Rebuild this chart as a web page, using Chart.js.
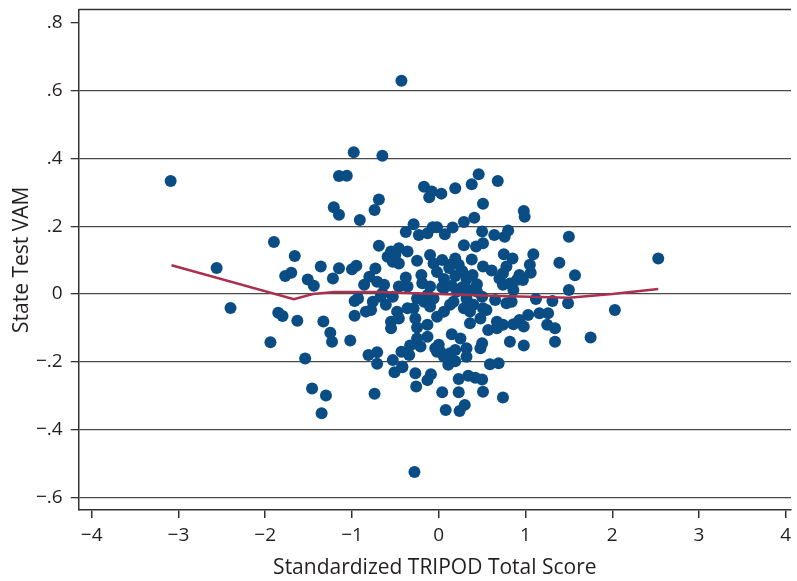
<!DOCTYPE html>
<html>
<head>
<meta charset="utf-8">
<script src="https://cdn.jsdelivr.net/npm/chart.js@4"></script>
<style>
  html, body { margin: 0; padding: 0; background: #fff; }
  #wrap { width: 797px; height: 581px; }
</style>
</head>
<body>
<div id="wrap"><canvas id="vam-chart" width="797" height="581"></canvas></div>
<script>
// standardized TRIPOD score (x) vs state test VAM (y), one pair per teacher
const scoreX = [
  -3.09, -2.56, -2.40, -1.90, -1.94, -1.85, -1.80, -1.66, -1.63, -1.77,
  -1.70, -1.51, -1.44, -1.36, -1.54, -1.46, -1.30, -1.35, -1.33, -1.25,
  -1.23, -1.02, -1.22, -1.15, -1.21, -1.15, -1.15, -1.06, -0.98, -0.65,
  -0.43, -0.91, -0.69, -0.74, -0.95, -1.00, -0.69, -0.73, -0.86, -0.17,
  -0.08, -0.11, -0.29, -0.38, -0.23, -0.13, -0.07, -0.55, -0.46, -0.36,
  -0.59, -0.50, -0.53, -0.46, -0.25, -0.10, -0.06, -0.80, -0.71, -0.63,
  -0.38, -0.46, -0.36, -0.20, -0.19, -0.10, 0.46, 0.38, 0.68, 0.03,
  0.19, 0.51, 0.41, 0.29, 0.98, 0.99, 0.16, 0.07, -0.02, 0.50,
  0.64, 0.76, 0.80, 1.50, 0.29, 0.43, 0.51, 0.75, 0.85, 1.09,
  1.39, 1.57, 1.50, 0.38, 0.19, 0.04, 0.23, 0.13, 0.51, 0.61,
  0.78, 0.74, 1.05, 1.06, 0.93, 0.97, -0.02, 0.06, 0.12, 0.19,
  0.27, 0.32, 0.39, 0.44, 0.15, 0.04, 0.27, 0.35, 0.70, 0.82,
  0.90, -0.74, -0.97, -0.93, -0.97, -0.84, -0.76, -0.67, -0.61, -0.53,
  -0.55, -0.46, -0.55, -0.48, -0.36, -0.27, -0.29, -0.17, -0.10, -0.25,
  -0.13, -0.06, -0.13, -0.25, -0.13, -0.25, -0.21, -0.33, -0.43, -0.34,
  -0.53, -0.42, -0.51, -0.81, -0.71, -0.71, -0.27, -0.26, -0.13, -0.09,
  -0.04, -0.28, 1.49, 1.75, 1.34, 1.34, 1.25, 1.26, 1.16, 1.31,
  1.12, 0.98, 0.82, 1.03, 0.93, 0.98, 0.86, 0.74, 0.67, 0.55,
  0.84, 0.78, 0.65, 0.50, 0.86, 0.74, 0.57, 0.67, 0.48, 0.36,
  0.15, 0.25, 0.32, 0.19, 0.13, 0.32, 0.48, 0.50, 0.02, 0.06,
  0.11, 0.19, 0.59, 0.69, 0.23, 0.34, 0.42, 0.50, 0.04, 0.23,
  0.51, 0.74, 0.08, 0.24, 0.30, -0.02, 0.06, 0.13, 0.00, -0.02,
  0.21, 0.32, 0.40, 0.29, 0.36, 0.17, 0.44, 0.06, 0.51, 2.03,
  2.53, -0.42, -0.78, -0.65
];
const vamY = [
  0.333, 0.077, -0.041, 0.153, -0.142, -0.055, -0.065, 0.112, -0.079, 0.053,
  0.063, 0.043, 0.024, 0.081, -0.190, -0.279, -0.299, -0.352, -0.081, -0.114,
  -0.141, -0.137, 0.046, 0.076, 0.256, 0.234, 0.348, 0.349, 0.418, 0.408,
  0.629, 0.218, 0.279, 0.248, 0.083, 0.073, 0.142, 0.075, 0.027, 0.316,
  0.302, 0.285, 0.206, 0.183, 0.174, 0.179, 0.197, 0.125, 0.135, 0.125,
  0.110, 0.115, 0.095, 0.090, 0.098, 0.115, 0.090, 0.051, 0.036, 0.027,
  0.049, 0.022, 0.022, 0.056, 0.032, 0.022, 0.353, 0.324, 0.333, 0.296,
  0.312, 0.266, 0.225, 0.212, 0.245, 0.228, 0.196, 0.176, 0.197, 0.184,
  0.174, 0.169, 0.187, 0.169, 0.144, 0.140, 0.150, 0.117, 0.105, 0.117,
  0.092, 0.055, 0.012, 0.102, 0.105, 0.100, 0.086, 0.086, 0.081, 0.069,
  0.081, 0.061, 0.086, 0.063, 0.056, 0.041, 0.065, 0.044, 0.077, 0.053,
  0.068, 0.044, 0.056, 0.029, 0.024, 0.020, 0.020, 0.012, 0.046, 0.031,
  0.041, -0.294, -0.021, -0.013, -0.064, -0.052, -0.023, -0.008, -0.032, -0.008,
  -0.082, -0.072, -0.101, -0.052, -0.042, -0.072, -0.042, -0.023, -0.037, -0.013,
  -0.003, -0.013, -0.091, -0.099, -0.126, -0.131, -0.155, -0.152, -0.170, -0.180,
  -0.195, -0.214, -0.231, -0.180, -0.172, -0.206, -0.234, -0.273, -0.254, -0.237,
  -0.160, -0.525, -0.027, -0.128, -0.141, -0.101, -0.091, -0.057, -0.057, -0.021,
  -0.015, -0.152, -0.141, -0.062, -0.077, -0.096, -0.089, -0.091, -0.082, -0.047,
  -0.023, -0.027, -0.018, -0.008, 0.012, 0.027, -0.106, -0.101, -0.072, -0.086,
  -0.119, -0.131, -0.160, -0.165, -0.175, -0.185, -0.160, -0.145, -0.170, -0.185,
  -0.209, -0.198, -0.207, -0.204, -0.251, -0.241, -0.247, -0.252, -0.290, -0.290,
  -0.288, -0.305, -0.342, -0.345, -0.327, -0.067, -0.052, -0.032, -0.150, -0.170,
  0.007, -0.013, -0.032, -0.042, -0.052, -0.023, 0.007, 0.017, -0.042, -0.047,
  0.105, -0.216, -0.047, 0.002
];

// smoothed fit line
const fitX = [-3.08, -1.67, -1.45, -1.20, -0.70, 0.00, 0.70, 1.50, 2.00, 2.53];
const fitY = [0.085, -0.015, 0.000, 0.006, 0.006, 0.000, -0.006, -0.011, 0.000, 0.015];

const xTicks = [-4, -3, -2, -1, 0, 1, 2, 3, 4];
const xTickLabels = ['\u22124', '\u22123', '\u22122', '\u22121', '0', '1', '2', '3', '4'];
const yTicks = [-0.6, -0.4, -0.2, 0, 0.2, 0.4, 0.6, 0.8];
const yTickLabels = ['\u2212.6', '\u2212.4', '\u2212.2', '0', '.2', '.4', '.6', '.8'];

const ink = '#231f20';
const font = 'Open Sans';

function labelFor(ticks, labels, v) {
  const i = ticks.findIndex(t => Math.abs(t - v) < 1e-6);
  return i < 0 ? '' : labels[i];
}

const topFrame = {
  id: 'top_frame',
  afterDraw: (chart) => {
    const ctx = chart.ctx;
    const a = chart.chartArea;
    ctx.save();
    ctx.strokeStyle = '#333';
    ctx.lineWidth = 1.5;
    ctx.beginPath();
    ctx.moveTo(a.left, a.top);
    ctx.lineTo(a.right, a.top);
    ctx.stroke();
    ctx.restore();
  }
};

const data = {
  datasets: [
    {
      type: 'line',
      data: fitX.map((x, i) => ({x: x, y: fitY[i]})),
      borderColor: '#ad2f4f',
      borderWidth: 2.5,
      pointRadius: 0,
      fill: false,
      order: 0
    },
    {
      type: 'scatter',
      data: scoreX.map((x, i) => ({x: x, y: vamY[i]})),
      backgroundColor: '#0a4d85',
      borderWidth: 0,
      pointRadius: 6,
      order: 1
    }
  ]
};

const config = {
  type: 'scatter',
  data,
  plugins: [topFrame],
  options: {
    responsive: false,
    animation: false,
    layout: { padding: { top: 9.5, right: 0, left: 0, bottom: 0 } },
    plugins: {
      legend: { display: false },
      tooltip: { enabled: false }
    },
    scales: {
      x: {
        type: 'linear',
        min: -4.15,
        max: 4.06,
        afterFit: (s) => { s.height = 71; s.paddingLeft = 0; s.paddingRight = 0; },
        border: { color: '#333', width: 1.5 },
        grid: {
          drawOnChartArea: false,
          tickLength: 8,
          tickColor: '#333',
          lineWidth: 1.5
        },
        ticks: {
          stepSize: 1,
          includeBounds: false,
          autoSkip: false,
          maxRotation: 0,
          padding: 6,
          color: ink,
          font: { family: font, size: 19 },
          callback: (v) => labelFor(xTicks, xTickLabels, v)
        },
        title: {
          display: true,
          text: 'Standardized TRIPOD Total Score',
          color: ink,
          font: { family: font, size: 21 },
          padding: { top: 2, bottom: 0 }
        }
      },
      y: {
        type: 'linear',
        min: -0.637,
        max: 0.839,
        afterFit: (s) => { s.width = 78.7; s.paddingTop = 0; s.paddingBottom = 0; },
        border: { color: '#333', width: 1.5 },
        grid: {
          color: (c) => (c.tick && Math.abs(c.tick.value - 0.8) < 1e-6) ? 'rgba(0,0,0,0)' : '#4a4a4a',
          lineWidth: 1.3,
          tickLength: 8,
          tickColor: '#333'
        },
        ticks: {
          stepSize: 0.2,
          includeBounds: false,
          autoSkip: false,
          padding: 8,
          color: ink,
          font: { family: font, size: 19 },
          callback: (v) => labelFor(yTicks, yTickLabels, v)
        },
        title: {
          display: true,
          text: 'State Test VAM',
          color: ink,
          font: { family: font, size: 21 },
          padding: { top: 9, bottom: 0 }
        }
      }
    }
  }
};

let vamChart = new Chart(document.getElementById('vam-chart'), config);
</script>
</body>
</html>
